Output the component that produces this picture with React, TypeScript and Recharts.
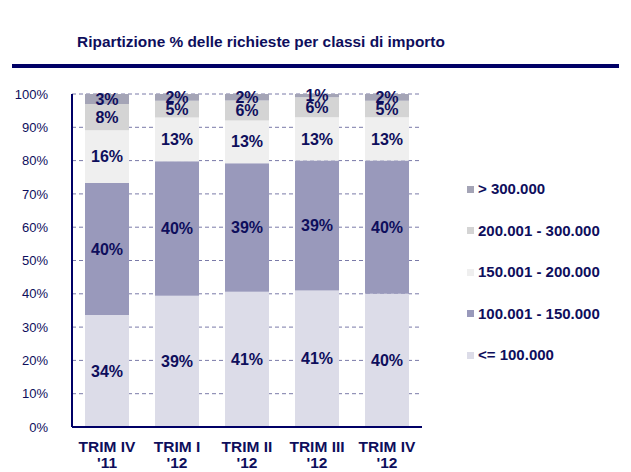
import { BarChart, Bar, XAxis, YAxis, CartesianGrid, LabelList } from "recharts";

const categories = ["TRIM IV '11", "TRIM I '12", "TRIM II '12", "TRIM III '12", "TRIM IV '12"];
const seriesNames = ["<= 100.000", "100.001 - 150.000", "150.001 - 200.000", "200.001 - 300.000", "> 300.000"];
const upTo100 = [34, 39, 41, 41, 40];
const from100to150 = [40, 40, 39, 39, 40];
const from150to200 = [16, 13, 13, 13, 13];
const from200to300 = [8, 5, 6, 6, 5];
const over300 = [3, 2, 2, 1, 2];
const yTicks = [0, 0.1, 0.2, 0.3, 0.4, 0.5, 0.6, 0.7, 0.8, 0.9, 1];

const colors = ["#dcdce8", "#9999bb", "#efefef", "#d4d4d4", "#a4a4b6"];
const navy = "#000066";
const textColor = "#0e0e5c";
const font = "'Liberation Sans', Arial, sans-serif";
const keys = ["s1", "s2", "s3", "s4", "s5"];

const data = categories.map((c, i) => ({
  name: c,
  s1: upTo100[i],
  s2: from100to150[i],
  s3: from150to200[i],
  s4: from200to300[i],
  s5: over300[i],
}));

const XTick = ({ x, y, payload }: any) => {
  const parts = String(payload.value).split(" ");
  const last = parts.pop();
  return (
    <g transform={`translate(${x},${y})`}>
      <text textAnchor="middle" fill={textColor} fontSize={15.5} fontWeight="bold" fontFamily={font}>
        <tspan x={0} y={17}>{parts.join(" ")}</tspan>
        <tspan x={0} y={33}>{last}</tspan>
      </text>
    </g>
  );
};

export default function App() {
  return (
    <div style={{ position: "absolute", left: 0, top: 0, width: 631, height: 472, background: "#fff", fontFamily: font }}>
      <div style={{ position: "absolute", left: 0, top: 33, width: 522, textAlign: "center", fontSize: 15.4, fontWeight: "bold", lineHeight: "18px", color: textColor }}>
        Ripartizione % delle richieste per classi di importo
      </div>
      <div style={{ position: "absolute", left: 12, top: 64, width: 607, height: 4, background: navy }} />
      <div style={{ position: "absolute", left: 0, top: 0 }}>
        <BarChart width={631} height={472} data={data} stackOffset="expand" margin={{ top: 94, right: 209, bottom: 5, left: 12 }}>
          <CartesianGrid vertical={false} stroke="#7a7aa8" strokeDasharray="4 3" />
          <XAxis dataKey="name" tick={<XTick />} tickLine={false} axisLine={{ stroke: navy, strokeWidth: 2 }} height={40} interval={0} />
          <YAxis
            domain={[0, 1]}
            ticks={yTicks}
            tickFormatter={(v: number) => `${Math.round(v * 100)}%`}
            tick={{ fill: textColor, fontSize: 13, fontFamily: font }}
            tickLine={false}
            tickSize={0}
            tickMargin={24}
            axisLine={{ stroke: navy, strokeWidth: 2 }}
            width={60}
          />
          {keys.map((k, i) => (
            <Bar key={k} dataKey={k} name={seriesNames[i]} stackId="a" fill={colors[i]} barSize={44} isAnimationActive={false}>
              <LabelList
                dataKey={k}
                position="center"
                formatter={(v: any) => `${v}%`}
                fill={textColor}
                fontSize={16}
                fontWeight="bold"
                fontFamily={font}
              />
            </Bar>
          ))}
        </BarChart>
      </div>
      {seriesNames
        .map((n, i) => ({ n, c: colors[i] }))
        .reverse()
        .map((item, j) => (
          <div key={item.n} style={{ position: "absolute", left: 467, top: 180 + j * 41.5, height: 18, display: "flex", alignItems: "center" }}>
            <span style={{ width: 7, height: 7, background: item.c, marginRight: 4, display: "inline-block" }} />
            <span style={{ fontSize: 15, fontWeight: "bold", color: textColor, lineHeight: "18px" }}>{item.n}</span>
          </div>
        ))}
    </div>
  );
}
